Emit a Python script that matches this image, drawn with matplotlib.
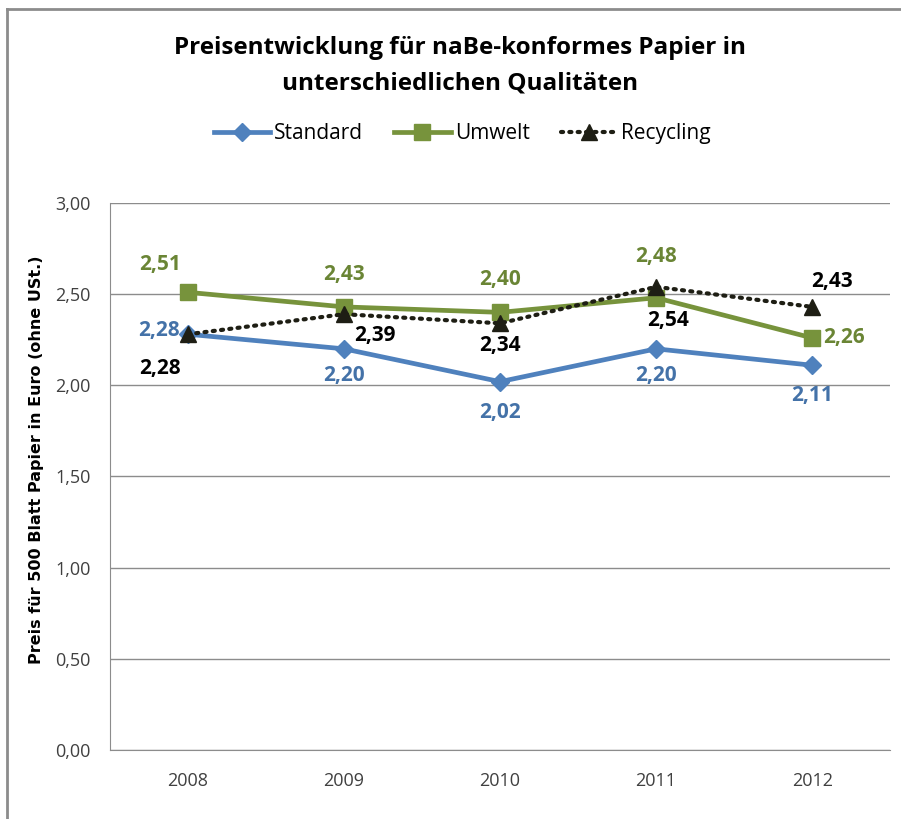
import matplotlib
matplotlib.use("Agg")
import matplotlib.pyplot as plt
from matplotlib import font_manager
from matplotlib.lines import Line2D


def pick_font(names):
    have = {f.name for f in font_manager.fontManager.ttflist}
    for n in names:
        if n in have:
            return n
    return "DejaVu Sans"


NARROW = pick_font(["Liberation Sans Narrow", "Open Sans", "DejaVu Sans"])

plt.rcParams.update({
    "font.family": [NARROW, "DejaVu Sans"],
    "font.size": 13,
})

# data
years = ["2008", "2009", "2010", "2011", "2012"]
standard = [2.28, 2.20, 2.02, 2.20, 2.11]
umwelt = [2.51, 2.43, 2.40, 2.48, 2.26]
recycling = [2.28, 2.39, 2.34, 2.54, 2.43]
y_ticks = [0.0, 0.5, 1.0, 1.5, 2.0, 2.5, 3.0]

C_STD = "#4F81BD"
C_STD_TXT = "#4472A8"
C_UMW = "#77933C"
C_UMW_TXT = "#6A8535"
C_REC = "#1E1E14"

# label offsets in points (dx, dy)
off_std = [(-21, 3), (0, -19), (0, -22), (0, -19), (0, -22)]
off_umw = [(-20, 20), (0, 23), (0, 24), (0, 30), (23, 0)]
off_rec = [(-20, -25), (22, -15), (0, -16), (9, -24), (14, 18)]

fig = plt.figure(figsize=(9.01, 8.19), dpi=100)
ax = fig.add_axes([0.122, 0.0842, 0.866, 0.6680])

x = list(range(len(years)))

ax.plot(x, standard, color=C_STD, lw=3.4, marker="D", ms=9,
        solid_joinstyle="round", label="Standard", zorder=3)
ax.plot(x, umwelt, color=C_UMW, lw=3.4, marker="s", ms=11,
        label="Umwelt", zorder=4)
ax.plot(x, recycling, color=C_REC, lw=3.0, ls=(0, (0.5, 1.5)),
        dash_capstyle="round", marker="^", ms=12, label="Recycling", zorder=5)

for xs, vals, offs, col in [(x, standard, off_std, C_STD_TXT),
                            (x, umwelt, off_umw, C_UMW_TXT),
                            (x, recycling, off_rec, "black")]:
    for xi, v, (dx, dy) in zip(xs, vals, offs):
        ax.annotate(f"{v:.2f}".replace(".", ","), (xi, v),
                    xytext=(dx, dy), textcoords="offset points",
                    ha="center", va="center", fontsize=15,
                    fontweight="bold", color=col, zorder=6)

ax.set_xlim(-0.5, len(years) - 0.5)
ax.set_ylim(0, 3)
ax.set_xticks(x)
ax.set_xticklabels(years)
ax.set_yticks(y_ticks)
ax.set_yticklabels([f"{t:.2f}".replace(".", ",") for t in y_ticks])
ax.tick_params(axis="both", length=0, labelsize=13, colors="#404040")
ax.tick_params(axis="y", pad=14)
ax.tick_params(axis="x", pad=16)
ax.grid(axis="y", color="#8C8C8C", lw=1)
ax.set_axisbelow(True)
for s in ["top", "right"]:
    ax.spines[s].set_visible(False)
ax.spines["left"].set_color("#8C8C8C")
ax.spines["bottom"].set_color("#8C8C8C")

ax.set_ylabel("Preis für 500 Blatt Papier in Euro (ohne USt.)",
              fontsize=11.5, fontweight="bold", family="DejaVu Sans")
ax.yaxis.set_label_coords(-0.085, 0.53)

fig.text(0.511, 0.941, "Preisentwicklung für naBe-konformes Papier in",
         ha="center", va="center", fontsize=17.5, fontweight="bold")
fig.text(0.511, 0.898, "unterschiedlichen Qualitäten",
         ha="center", va="center", fontsize=17.5, fontweight="bold")

fig.legend(loc="center", bbox_to_anchor=(0.513, 0.837), ncol=3,
           frameon=False, fontsize=15, handlelength=2.7,
           handletextpad=0.2, columnspacing=1.5)

# chart frame: only the top and left edges are inside the picture
fx, fy = 7 / 901, 1 - 9 / 819
fig.add_artist(Line2D([fx, 1.0], [fy, fy], transform=fig.transFigure,
                      color="#8C8C8C", lw=2))
fig.add_artist(Line2D([fx, fx], [0.0, fy], transform=fig.transFigure,
                      color="#8C8C8C", lw=2))

fig.savefig("out.png", dpi=100)
